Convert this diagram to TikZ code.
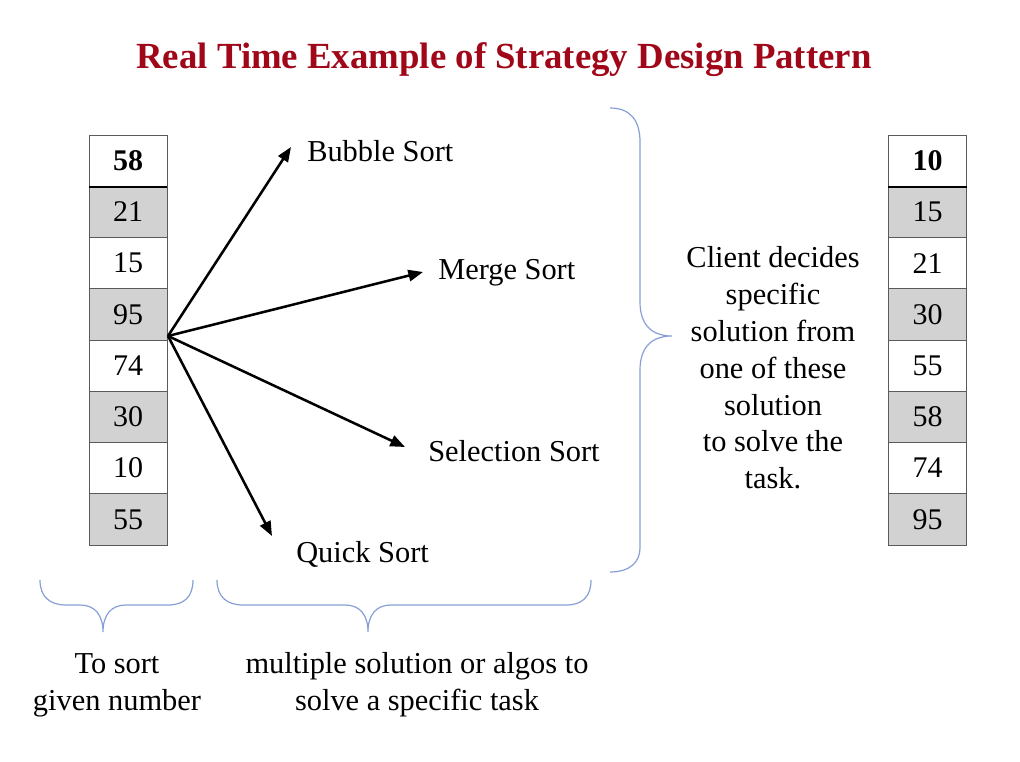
\documentclass[tikz,border=0pt]{standalone}
\usepackage{fontspec}
\setmainfont{Liberation Serif}
\usetikzlibrary{arrows.meta,calc}
\definecolor{titlered}{RGB}{160,8,25}
\definecolor{cellgray}{RGB}{210,210,210}
\definecolor{cellline}{RGB}{90,90,90}
\definecolor{braceblue}{RGB}{135,160,215}
\tikzset{
  cell/.style={draw=cellline, line width=0.7pt, minimum width=58.5pt, minimum height=38.44pt, inner sep=0pt, font=\fontsize{22.5}{26}\selectfont},
  arr/.style={line width=1.9pt, -{Triangle[length=11pt,width=8.5pt]}},
  lbl/.style={inner sep=0pt, font=\fontsize{22.8}{27}\selectfont},
  note/.style={inner sep=0pt, align=center, font=\fontsize{22.8}{27.6}\selectfont},
  bracestyle/.style={draw=braceblue, line width=0.9pt},
}
\begin{document}
\begin{tikzpicture}[x=0.75pt,y=-0.75pt]
\path[use as bounding box, fill=white] (0,0) rectangle (1020,762);
% title
\node[inner sep=0pt, text=titlered, font=\fontsize{27.6}{32}\bfseries] (title) at (504,60) {Real Time Example of Strategy Design Pattern};
% left column
\foreach \v [count=\i] in {58,21,15,95,74,30,10,55} {
  \pgfmathsetmacro{\yy}{135+25.625+51.25*(\i-1)}
  \ifodd\i \def\fc{white}\else\def\fc{cellgray}\fi
  \node[cell, fill=\fc] (L\i) at (128,\yy) {\ifnum\i=1 \textbf{\v}\else\v\fi};
}
\foreach \v [count=\i] in {10,15,21,30,55,58,74,95} {
  \pgfmathsetmacro{\yy}{135+25.625+51.25*(\i-1)}
  \ifodd\i \def\fc{white}\else\def\fc{cellgray}\fi
  \node[cell, fill=\fc] (R\i) at (927.5,\yy) {\ifnum\i=1 \textbf{\v}\else\v\fi};
}
\draw[line width=1.6pt] (L1.south west) -- (L1.south east);
\draw[line width=1.6pt] (R1.south west) -- (R1.south east);
% labels
\node[lbl, anchor=west] (bubble) at (307,151) {Bubble Sort};
\node[lbl, anchor=west] (merge) at (438,273) {Merge Sort};
\node[lbl, anchor=west] (selection) at (428,451) {Selection Sort};
\node[lbl, anchor=west] (quick) at (296,554) {Quick Sort};
% arrows
\coordinate (src) at (168,336);
\coordinate (tb) at (291,147);
\coordinate (tm) at (423,272);
\coordinate (ts) at (405,447);
\coordinate (tq) at (272,536);
\draw[arr] (src) -- (tb);
\draw[arr] (src) -- (tm);
\draw[arr] (src) -- (ts);
\draw[arr] (src) -- (tq);
% right brace
\draw[bracestyle] (610,108) .. controls (630,108) and (640,120) .. (640,142) -- (640,302)
  .. controls (640,325) and (652,336) .. (672,336)
  .. controls (652,336) and (640,347) .. (640,370) -- (640,548)
  .. controls (640,562) and (630,572) .. (610,572);
% bottom braces
\draw[bracestyle] (40,580) .. controls (40,597) and (50,605) .. (66,605) -- (80,605)
  .. controls (95,605) and (103,615) .. (103,632)
  .. controls (103,615) and (111,605) .. (126,605) -- (168,605)
  .. controls (184,605) and (193,597) .. (193,580);
\draw[bracestyle] (217,580) .. controls (217,597) and (227,605) .. (243,605) -- (345,605)
  .. controls (360,605) and (368,615) .. (368,632)
  .. controls (368,615) and (376,605) .. (391,605) -- (566,605)
  .. controls (582,605) and (591,597) .. (591,580);
% notes
\node[note] (client) at (773,368) {Client decides\\specific\\solution from\\one of these\\solution\\to solve the\\task.};
\node[note] (tosort) at (117,685) {To sort\\given number};
\node[note] (multi) at (417,685) {multiple solution or algos to\\solve a specific task};
\end{tikzpicture}
\end{document}
